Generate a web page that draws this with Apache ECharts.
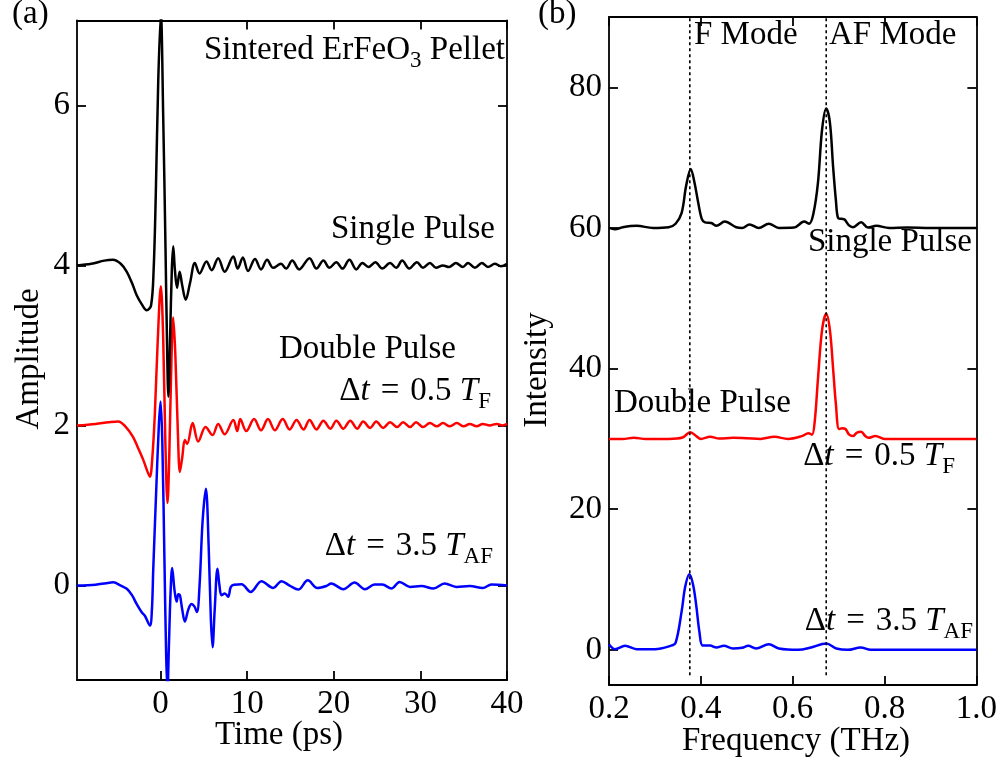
<!DOCTYPE html>
<html><head><meta charset="utf-8">
<script src="https://cdn.jsdelivr.net/npm/echarts@6/dist/echarts.min.js"></script>
<style>html,body{margin:0;padding:0;background:#fff}#c{width:1000px;height:766px}</style>
</head><body><div id="c"></div>
<script>
const FONT = '"Liberation Serif","Times New Roman",serif';

// ---- Panel (a): time-domain waveforms (time in ps, amplitude offset) ----
const singleT = [-9.65,-8.0,-6.5,-5.5,-4.6,-3.9,-3.3,-2.77,-2.2,-1.6,-1.1,-0.8,-0.55,-0.27,0.03,0.3,0.57,0.75,0.9,1.1,1.3,1.46,1.65,1.9,2.2,2.5,2.9,3.4,3.96,4.5,5.3,5.9,6.65,7.4,8.4,
  8.9,9.5,10.1,10.9,11.6,12.3,13.0,13.9,14.5,15.2,16.0,17.2,18.0,18.8,19.5,20.3,21.0,21.8,22.6,23.3,24.0,24.8,25.6,26.5,27.2,27.9,28.7,29.6,30.3,31.1,31.8,32.6,33.3,34.1,34.9,35.5,36.3,37.1,37.8,38.6,39.3,40.0];
const singleA = [4.00,4.02,4.06,4.07,4.02,3.92,3.78,3.63,3.52,3.44,3.50,3.95,4.90,6.30,7.15,5.88,4.21,3.00,2.36,3.10,3.95,4.24,3.95,3.72,3.92,3.75,3.57,3.78,4.03,3.90,4.05,3.94,4.09,3.92,4.11,
  3.96,4.10,3.93,4.08,3.95,4.07,3.97,4.02,3.96,4.06,3.95,4.09,3.96,4.06,3.97,4.04,3.96,4.07,3.95,4.03,3.98,4.04,3.96,4.03,3.97,4.06,3.96,4.04,3.97,4.03,3.97,4.00,3.98,4.03,3.98,4.03,3.97,4.03,3.98,4.02,3.99,4.02];

const doubleT = [-9.65,-7.5,-6.0,-4.9,-4.0,-3.2,-2.6,-2.0,-1.5,-1.23,-0.95,-0.66,-0.35,0.03,0.3,0.55,0.8,1.0,1.25,1.46,1.7,2.0,2.23,2.5,2.8,3.07,3.7,4.34,5.2,6.0,6.65,7.4,8.4,
  8.85,9.2,9.9,10.8,11.6,12.4,13.2,14.1,14.9,15.7,16.5,17.2,18.0,18.8,19.6,20.3,21.1,21.9,22.7,23.4,24.2,24.9,25.7,26.5,27.3,28.0,28.8,29.5,30.3,31.1,31.9,32.6,33.4,34.2,35.0,35.7,36.5,37.2,38.0,38.8,39.5,40.0];
const doubleA = [2.00,2.02,2.04,2.05,1.98,1.86,1.72,1.57,1.42,1.36,1.60,2.15,3.00,3.74,3.10,1.80,1.03,1.60,2.80,3.35,2.90,1.90,1.42,1.60,1.82,1.77,2.03,1.80,1.98,1.88,2.02,1.89,2.07,
  1.93,2.08,1.93,2.08,1.94,2.08,1.94,2.08,1.95,2.07,1.95,2.07,1.95,2.06,1.96,2.06,1.96,2.06,1.96,2.05,1.97,2.05,1.97,2.04,1.98,2.04,1.98,2.04,1.98,2.03,1.99,2.03,1.99,2.03,1.99,2.02,1.99,2.02,2.00,2.02,2.00,2.02];

const delayT = [-9.65,-7.5,-6.3,-5.47,-4.6,-3.9,-3.3,-2.77,-2.2,-1.8,-1.23,-1.0,-0.85,-0.5,-0.2,0.0,0.2,0.45,0.65,0.8,0.95,1.15,1.34,1.6,1.85,2.05,2.23,2.5,2.8,3.2,3.57,3.9,4.2,4.5,4.85,5.23,5.55,5.8,6.0,6.25,6.57,6.8,7.03,7.42,7.8,8.1,8.46,
  9.35,10.4,11.65,13.0,13.96,14.9,15.9,17.0,18.1,19.15,19.7,21.1,22.4,23.6,24.7,25.6,26.65,27.6,28.8,30.1,31.5,32.8,34.15,35.7,37.2,38.2,40.0];
const delayA = [0.00,0.01,0.03,0.04,0.00,-0.04,-0.12,-0.23,-0.33,-0.38,-0.50,-0.30,0.19,1.20,2.00,2.30,1.80,0.30,-0.90,-1.30,-0.80,-0.10,0.22,-0.05,-0.20,-0.11,-0.12,-0.30,-0.45,-0.30,-0.23,-0.26,-0.33,0.00,0.80,1.21,0.50,-0.40,-0.77,-0.30,0.21,0.00,-0.12,-0.10,-0.14,-0.02,0.01,
  0.015,-0.08,0.054,-0.03,0.054,0.00,-0.05,0.066,-0.03,-0.005,0.025,-0.045,0.037,-0.045,0.013,0.013,-0.037,0.046,-0.017,-0.005,-0.037,0.025,-0.017,-0.005,-0.03,0.013,0.00];

// ---- Panel (b): spectra (frequency THz, intensity offset) ----
const singleF = [0.2,0.213,0.23,0.26,0.296,0.33,0.345,0.358,0.368,0.378,0.386,0.394,0.402,0.409,0.423,0.434,0.452,0.477,0.49,0.506,0.526,0.548,0.57,0.603,0.625,0.636,0.645,0.655,0.664,0.673,0.681,0.688,0.694,0.699,0.706,0.713,0.722,0.731,0.749,0.764,0.782,0.81,0.85,0.9,1.0];
const singleI = [60.0,59.8,60.1,60.3,60.0,60.1,60.6,62.1,66.0,68.4,66.5,63.7,61.3,60.8,60.7,60.3,60.9,60.1,60.0,60.5,60.0,60.6,60.0,60.05,60.9,60.6,62.0,66.4,74.0,77.0,75.0,68.7,64.0,61.4,61.3,61.2,60.4,60.1,60.8,60.05,60.3,60.0,60.05,60.0,60.0];

const doubleF = [0.2,0.23,0.254,0.28,0.33,0.36,0.377,0.39,0.4,0.42,0.44,0.47,0.5,0.53,0.56,0.59,0.62,0.634,0.642,0.648,0.655,0.664,0.673,0.681,0.688,0.694,0.701,0.708,0.715,0.723,0.731,0.74,0.749,0.758,0.765,0.78,0.8,0.85,1.0];
const doubleI = [30.0,30.0,30.15,30.0,30.0,30.2,30.95,30.4,30.0,30.3,30.05,30.15,30.1,30.0,30.3,30.0,30.4,30.8,30.6,32.5,38.5,45.5,47.8,45.5,40.0,35.0,31.4,31.5,31.4,30.6,30.4,30.9,31.0,30.4,30.15,30.4,30.0,30.0,30.0];

const delayF = [0.2,0.213,0.235,0.26,0.3,0.334,0.345,0.358,0.366,0.375,0.383,0.39,0.397,0.404,0.42,0.434,0.45,0.47,0.49,0.503,0.52,0.548,0.57,0.612,0.64,0.673,0.695,0.72,0.748,0.77,1.0];
const delayI = [0.8,0.1,0.57,0.1,0.1,0.57,1.0,5.4,9.0,10.75,9.3,6.3,2.5,0.6,0.6,0.33,0.57,0.2,0.3,0.57,0.2,0.8,0.2,0.0,0.33,0.9,0.2,0.0,0.33,0.0,0.0];

// mode frequencies (dotted markers) and their vertical extent
const modeFreqs = [0.376, 0.673];
const modeRange = [-3.6, 90];

// tick values
const timeTicks = [0, 10, 20, 30, 40];
const ampTicks = [0, 2, 4, 6];
const freqTicks = [0.2, 0.4, 0.6, 0.8, 1.0];
const intTicks = [0, 20, 40, 60, 80];

const zip = (a, b) => a.map((v, i) => [v, b[i]]);

const MAIN = 33, SUB = 23;
const mctx = document.createElement('canvas').getContext('2d');
function measure(t, size, it) { mctx.font = (it ? 'italic ' : '') + size + 'px ' + FONT; return mctx.measureText(t).width; }
function label(list, x, base, align) {
  const items = list.map(([t, s]) => {
    const size = s === 's' ? SUB : MAIN, it = s === 'i';
    return { t, size, it, dy: s === 's' ? 7 : 0, w: measure(t, size, it) };
  });
  const total = items.reduce((a, b) => a + b.w, 0);
  let cx = align === 'right' ? x - total : align === 'center' ? x - total / 2 : x;
  const out = [];
  items.forEach(p => {
    out.push({ type: 'text', x: cx, y: base + p.dy - 0.34 * p.size, silent: true, z: 100,
      style: { text: p.t, fontSize: p.size, fontFamily: FONT, fontStyle: p.it ? 'italic' : 'normal', fill: '#000',
        textAlign: 'left', align: 'left', textVerticalAlign: 'middle', verticalAlign: 'middle' } });
    cx += p.w;
  });
  return out;
}
function rotLabel(t, x, y) {
  return { type: 'text', x, y, rotation: Math.PI / 2, silent: true, z: 100,
    style: { text: t, fontSize: MAIN, fontFamily: FONT, fill: '#000', textAlign: 'center', align: 'center', textVerticalAlign: 'middle', verticalAlign: 'middle' } };
}

const AX = { color: '#000', width: 1.8 };
function xAx(grid, min, max, ticks, pos, fmt) {
  return { type: 'value', gridIndex: grid, min, max, position: pos,
    axisLine: { show: true, onZero: false, lineStyle: AX },
    axisTick: { show: true, inside: true, length: 9, customValues: ticks, lineStyle: AX },
    axisLabel: { show: pos === 'bottom', customValues: ticks, fontSize: MAIN, fontFamily: FONT, color: '#000', margin: 8, formatter: fmt },
    splitLine: { show: false } };
}
function yAx(grid, min, max, ticks, pos) {
  return { type: 'value', gridIndex: grid, min, max, position: pos,
    axisLine: { show: true, onZero: false, lineStyle: AX },
    axisTick: { show: true, inside: true, length: 9, customValues: ticks, lineStyle: AX },
    axisLabel: { show: pos === 'left', customValues: ticks, fontSize: MAIN, fontFamily: FONT, color: '#000', margin: 7 },
    splitLine: { show: false } };
}
function line(xi, yi, data, color, z) {
  return { type: 'line', xAxisIndex: xi, yAxisIndex: yi, data, showSymbol: false, smooth: 0.35, clip: true,
    lineStyle: { color, width: 2.5 }, z, silent: true };
}

const chart = echarts.init(document.getElementById('c'), null, { renderer: 'canvas' });
const series = [
  line(0, 0, zip(delayT, delayA), '#0000ff', 2),
  line(0, 0, zip(doubleT, doubleA), '#ff0000', 3),
  line(0, 0, zip(singleT, singleA), '#000000', 4),
  line(2, 2, zip(delayF, delayI), '#0000ff', 2),
  line(2, 2, zip(doubleF, doubleI), '#ff0000', 3),
  line(2, 2, zip(singleF, singleI), '#000000', 4)
];
modeFreqs.forEach(f => series.push({ type: 'line', xAxisIndex: 2, yAxisIndex: 2, data: modeRange.map(v => [f, v]), showSymbol: false,
  lineStyle: { color: '#000', width: 1.6, type: [3, 3] }, z: 5, silent: true }));

const EQ = '\u2004=\u2004';
const graphic = [].concat(
  label([['(a)', 'n']], 12, 26, 'left'),
  label([['(b)', 'n']], 538, 26, 'left'),
  label([['Sintered ErFeO', 'n'], ['3', 's'], [' Pellet', 'n']], 505, 62, 'right'),
  label([['Single Pulse', 'n']], 495, 241, 'right'),
  label([['Double Pulse', 'n']], 279, 361, 'left'),
  label([['Δ', 'n'], ['t', 'i'], [EQ + '0.5 ', 'n'], ['T', 'i'], ['F', 's']], 491, 403, 'right'),
  label([['Δ', 'n'], ['t', 'i'], [EQ + '3.5 ', 'n'], ['T', 'i'], ['AF', 's']], 493, 558, 'right'),
  label([['Time (ps)', 'n']], 279, 747, 'center'),
  label([['F Mode', 'n']], 694, 47, 'left'),
  label([['AF Mode', 'n']], 829, 47, 'left'),
  label([['Single Pulse', 'n']], 972, 254, 'right'),
  label([['Double Pulse', 'n']], 614, 415, 'left'),
  label([['Δ', 'n'], ['t', 'i'], [EQ + '0.5 ', 'n'], ['T', 'i'], ['F', 's']], 955, 468, 'right'),
  label([['Δ', 'n'], ['t', 'i'], [EQ + '3.5 ', 'n'], ['T', 'i'], ['AF', 's']], 973, 633, 'right'),
  label([['Frequency (THz)', 'n']], 796, 753, 'center'),
  [rotLabel('Amplitude', 29, 359), rotLabel('Intensity', 537, 370)]
);

chart.setOption({
  animation: false,
  backgroundColor: '#fff',
  grid: [
    { left: 77, top: 20.5, width: 430, height: 659.5, containLabel: false },
    { left: 609, top: 17, width: 368, height: 668, containLabel: false }
  ],
  xAxis: [
    xAx(0, -9.65, 40, timeTicks, 'bottom', v => String(v)),
    xAx(0, -9.65, 40, timeTicks, 'top'),
    xAx(1, 0.2, 1.0, freqTicks, 'bottom', v => v.toFixed(1)),
    xAx(1, 0.2, 1.0, freqTicks, 'top')
  ],
  yAxis: [
    yAx(0, -1.18, 7.06, ampTicks, 'left'),
    yAx(0, -1.18, 7.06, ampTicks, 'right'),
    yAx(1, -5, 90, intTicks, 'left'),
    yAx(1, -5, 90, intTicks, 'right')
  ],
  series,
  graphic
});
</script></body></html>
